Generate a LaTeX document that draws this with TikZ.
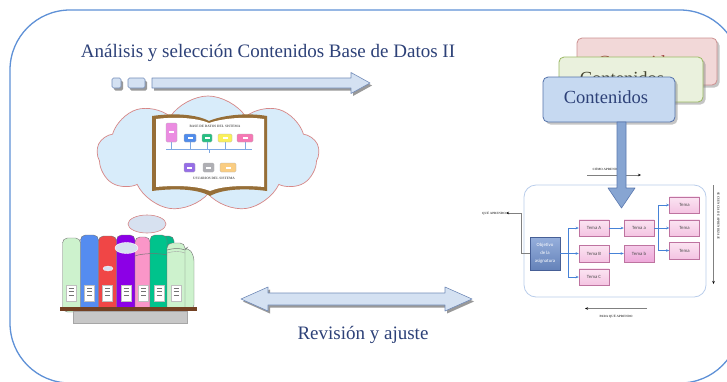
\documentclass[tikz,border=0pt]{standalone}
\usepackage{fontspec}
\setmainfont{Liberation Serif}
\newfontfamily\calibrilike{Carlito}
\usetikzlibrary{shapes.symbols,shadows,arrows.meta,calc}

\definecolor{frameblue}{RGB}{95,145,215}
\definecolor{titleblue}{RGB}{45,65,120}
\definecolor{arrowfill}{RGB}{212,225,242}
\definecolor{arrowline}{RGB}{115,140,185}
\definecolor{cloudfill}{RGB}{216,236,250}
\definecolor{cloudline}{RGB}{215,135,135}
\definecolor{pinkfill}{RGB}{242,216,216}
\definecolor{pinkline}{RGB}{205,145,145}
\definecolor{pinktext}{RGB}{150,50,50}
\definecolor{greenfill}{RGB}{234,241,221}
\definecolor{greenline}{RGB}{155,185,100}
\definecolor{greentext}{RGB}{70,70,50}
\definecolor{bluefill}{RGB}{198,217,241}
\definecolor{blueline}{RGB}{85,115,170}
\definecolor{downfill}{RGB}{135,165,210}
\definecolor{downline}{RGB}{90,120,175}
\definecolor{tematop}{RGB}{251,228,242}
\definecolor{temabot}{RGB}{244,196,226}
\definecolor{temadeep}{RGB}{238,168,218}
\definecolor{temaline}{RGB}{190,115,160}
\definecolor{objtop}{RGB}{150,175,220}
\definecolor{objbot}{RGB}{100,130,185}
\definecolor{objline}{RGB}{70,95,150}
\definecolor{flowblue}{RGB}{70,130,215}
\definecolor{boxframe}{RGB}{185,205,235}
\definecolor{bookbrown}{RGB}{150,110,55}
\definecolor{shelfbrown}{RGB}{115,65,35}

\tikzset{
  blockarrow/.style={fill=arrowfill, draw=arrowline, line width=0.6pt, line join=round},
  arrowshade/.style={fill=black!40, draw=none},
  headline/.style={font=\fontsize{19}{22}\selectfont, text=titleblue, inner sep=0pt},
  cardbox/.style={rounded corners=5pt, line width=0.8pt,
    drop shadow={shadow xshift=2.5pt, shadow yshift=-2.5pt, opacity=0.45}},
  cardtext/.style={font=\fontsize{18.5}{21}\selectfont, inner sep=0pt},
  tema/.style={draw=temaline, line width=0.5pt, top color=tematop, bottom color=temabot,
    minimum width=30pt, minimum height=16.5pt, inner sep=0pt,
    font=\calibrilike\fontsize{4.8}{5.5}\selectfont, text=black!70},
  flow/.style={flowblue, line width=0.5pt, -{Stealth[length=3pt,width=2.5pt]}},
  tinylabel/.style={font=\bfseries\fontsize{3.2}{3.6}\selectfont, text=black!70, inner sep=0pt},
  guide/.style={black!50, line width=0.7pt, -{Stealth[length=3pt,width=2.5pt,black]}},
  spine/.style={draw=black!55, line width=0.4pt, rounded corners=5pt},
  spinelabel/.style={fill=white, draw=black!25, line width=0.2pt},
  booktext/.style={font=\bfseries\fontsize{3.4}{4}\selectfont, text=black!65, inner sep=0pt},
  dbitem/.style={rounded corners=1.2pt, draw=black!30, line width=0.2pt}
}

\begin{document}
\begin{tikzpicture}[x=1pt,y=-1pt]
\useasboundingbox (0,0) rectangle (727,381);
\fill[white] (0,0) rectangle (727,381);
\begin{scope}
\clip (0,0) rectangle (727,381);

% outer rounded frame
\draw[frameblue, line width=1.3pt, rounded corners=60pt] (10,10) rectangle (740,383);

% heading
\node[headline] (title) at (268,53) {Análisis y selección Contenidos Base de Datos II};

% top block arrow with its two small squares
\begin{scope}[shift={(2,2.5)}]
  \fill[arrowshade] (152,78) -- (351,78) -- (351,72.5) -- (370,83) -- (351,93.5) -- (351,88) -- (152,88) -- cycle;
  \fill[arrowshade, rounded corners=1.5pt] (112,78) rectangle (121,88);
  \fill[arrowshade, rounded corners=1.5pt] (128,78) rectangle (145,88);
\end{scope}
\filldraw[blockarrow] (152,78) -- (351,78) -- (351,72.5) -- (370,83) -- (351,93.5) -- (351,88) -- (152,88) -- cycle;
\filldraw[blockarrow, rounded corners=1.5pt] (112,78) rectangle (121,88);
\filldraw[blockarrow, rounded corners=1.5pt] (128,78) rectangle (145,88);

% thought cloud with the open book
\node[cloud, cloud puffs=9, cloud puff arc=115, aspect=1.9, draw=cloudline, fill=cloudfill,
      line width=0.7pt, minimum width=222pt, minimum height=116pt] (cloud) at (208,154) {};
\fill[bookbrown] (152,116) .. controls (180,112) and (200,116) .. (209,121)
   .. controls (220,116) and (245,112) .. (267,116) -- (267,191)
   .. controls (245,188) and (222,189) .. (210,196)
   .. controls (198,189) and (175,188) .. (152,191) -- cycle;
\fill[white] (156,119) .. controls (180,116) and (200,119) .. (209,123)
   .. controls (220,119) and (243,116) .. (264,119) -- (264,187)
   .. controls (243,185) and (222,186) .. (210,191)
   .. controls (198,186) and (177,185) .. (156,187) -- cycle;
\node[booktext] (dbtitle) at (215,126) {BASE DE DATOS DEL SISTEMA};
\draw[flowblue!70, line width=0.8pt] (166,149) -- (252,149);
\foreach \xa/\xb in {171/171, 190/190, 207/207, 225/225, 245/245}
  \draw[flowblue!70, line width=0.6pt] (\xa,141) -- (\xb,149);
\draw[flowblue!70, line width=0.5pt] (209,149) -- (209,153);
\filldraw[dbitem, fill={rgb,255:red,235;green,140;blue,225}] (166,123) rectangle (177,142);
\filldraw[dbitem, fill={rgb,255:red,80;green,140;blue,235}] (184,134) rectangle (196,142);
\filldraw[dbitem, fill={rgb,255:red,40;green,190;blue,130}] (202,134) rectangle (212,142);
\filldraw[dbitem, fill={rgb,255:red,250;green,240;blue,90}] (218,134) rectangle (232,142);
\filldraw[dbitem, fill={rgb,255:red,245;green,120;blue,180}] (237,134) rectangle (253,142);
\filldraw[dbitem, fill={rgb,255:red,150;green,110;blue,230}] (184,163) rectangle (195,172);
\filldraw[dbitem, fill={rgb,255:red,175;green,175;blue,180}] (203,163) rectangle (214,172);
\filldraw[dbitem, fill={rgb,255:red,250;green,205;blue,130}] (220,163) rectangle (236,172);
\foreach \cx/\cy in {171/132, 190/138, 207/138, 225/138, 245/138, 189/168, 208/168, 228/168}
  \fill[white] (\cx-2.5,\cy-1) rectangle (\cx+2.5,\cy+1);
\node[booktext] (usrtitle) at (214,178) {USUARIOS DEL SISTEMA};

% small thought bubble
\filldraw[fill={rgb,255:red,215;green,225;blue,240}, draw=cloudline, line width=0.6pt] (147,224) ellipse (19pt and 9pt);

% bookshelf
\filldraw[spine, fill={rgb,255:red,0;green,185;blue,135}] (160,236) rectangle (174,310);
\filldraw[spine, fill={rgb,255:red,205;green,242;blue,205}] (183,250) -- (188,247) -- (194,256) -- (194,310) -- (183,310) -- cycle;
\filldraw[spine, fill={rgb,255:red,205;green,242;blue,205}] (62.5,238) rectangle (80.5,312);
\filldraw[spine, fill={rgb,255:red,85;green,140;blue,240}] (80.5,235) rectangle (98.5,312);
\filldraw[spine, fill={rgb,255:red,240;green,70;blue,70}] (98.5,236) rectangle (116.5,312);
\filldraw[spine, fill={rgb,255:red,140;green,0;blue,230}] (116.5,235) rectangle (135,312);
\filldraw[spine, fill={rgb,255:red,250;green,150;blue,200}] (135,237) rectangle (150,312);
\filldraw[spine, fill={rgb,255:red,0;green,195;blue,140}] (150,235) rectangle (167,312);
\filldraw[spine, fill={rgb,255:red,205;green,242;blue,205}] (167,243) rectangle (185,312);
\draw[black!55, line width=0.5pt] (135,256) .. controls (142,253) and (160,253) .. (167,255);
\draw[black!55, line width=0.5pt] (167,250) .. controls (174,248) and (180,248) .. (185,250);
\draw[black!35, line width=0.4pt] (167,253) .. controls (174,251) and (180,251) .. (185,253);
\filldraw[fill={rgb,255:red,215;green,225;blue,240}, draw=white, line width=0.4pt] (126.5,248) ellipse (11.5pt and 5.5pt);
\filldraw[fill={rgb,255:red,215;green,225;blue,240}, draw=white, line width=0.3pt] (108,268.5) ellipse (5pt and 2.5pt);
\foreach \lx in {66, 84.5, 102.5, 121, 138.5, 154, 171}
{
  \filldraw[spinelabel] (\lx,285) rectangle (\lx+10,301);
  \foreach \ly in {288, 291.5, 295}
    \draw[black!55, line width=0.5pt] (\lx+2.5,\ly) -- (\lx+7.5,\ly);
}
\fill[shelfbrown] (60,306.5) rectangle (197,310.5);
\filldraw[fill=black!22, draw=black!35, line width=0.4pt] (73,311) rectangle (187,323);

% two-headed block arrow
\begin{scope}[shift={(2,2.5)}]
  \fill[arrowshade] (241,299) -- (268,287) -- (268,293) -- (445,293) -- (445,287) -- (472,299)
     -- (445,311) -- (445,305) -- (268,305) -- (268,311) -- cycle;
\end{scope}
\filldraw[blockarrow] (241,299) -- (268,287) -- (268,293) -- (445,293) -- (445,287) -- (472,299)
   -- (445,311) -- (445,305) -- (268,305) -- (268,311) -- cycle;
\node[headline] (review) at (363,335) {Revisión y ajuste};

% stacked content cards
\node[cardbox, draw=pinkline, fill=pinkfill, minimum width=140pt, minimum height=47pt] (cardback) at (647,61.5) {};
\node[cardtext, text=pinktext] (cardbacktext) at (640,62) {Contenidos};
\node[cardbox, draw=greenline, fill=greenfill, minimum width=144pt, minimum height=45pt] (cardmid) at (631,79.5) {};
\node[cardtext, text=greentext] (cardmidtext) at (622,78.5) {Contenidos};
\node[cardbox, draw=blueline, fill=bluefill, minimum width=132pt, minimum height=45pt] (cardfront) at (609,99.5) {};
\node[cardtext, text=titleblue] (cardfronttext) at (606,97) {Contenidos};

% learning map on the right
\draw[boxframe, line width=0.8pt, rounded corners=12pt] (524,185) rectangle (706,297);

\node[draw=objline, line width=0.5pt, top color=objtop, bottom color=objbot, minimum width=30pt,
      minimum height=33pt, inner sep=0pt, align=center, text=white,
      font=\calibrilike\fontsize{4.8}{8}\selectfont] (obj) at (545,253.5) {Objetivo\\de la\\asignatura};
\node[tema] (tA) at (594,228) {Tema A};
\node[tema] (tB) at (594,253.5) {Tema B};
\node[tema] (tC) at (594,277) {Tema C};
\node[tema] (ta) at (639,228) {Tema a};
\node[tema, top color=temadeep!60!white, bottom color=temadeep] (tb) at (639,253.5) {Tema b};
\node[tema] (r1) at (684.5,205) {Tema};
\node[tema] (r2) at (684.5,228) {Tema};
\node[tema] (r3) at (684.5,250.5) {Tema};

\coordinate (split1) at (568,253.5);
\coordinate (split2) at (658,228);
\draw[flowblue, line width=0.5pt] (obj.east) -- (split1);
\draw[flow] (split1) |- (tA.west);
\draw[flow] (split1) -- (tB.west);
\draw[flow] (split1) |- (tC.west);
\draw[flow] (tA.east) -- (ta.west);
\draw[flow] (tB.east) -- (tb.west);
\draw[flowblue, line width=0.5pt] (ta.east) -- (split2);
\draw[flow] (split2) |- (r1.west);
\draw[flow] (split2) -- (r2.west);
\draw[flow] (split2) |- (r3.west);

% guide arrows with their captions
\node[tinylabel] (que) at (494,213) {QUÉ APRENDO};
\coordinate (queturn) at (521,213);
\draw[guide] (obj.west) -| (queturn) -- (que.east);

\node[tinylabel] (como) at (606,169.5) {CÓMO APRENDO};
\coordinate (comostart) at (587,175);
\coordinate (comoend) at (641,175);
\draw[guide] (comostart) -- (comoend);

\node[tinylabel] (paraque) at (616,316) {PARA QUÉ APRENDO};
\coordinate (parastart) at (647,308.5);
\coordinate (paraend) at (585,308.5);
\draw[guide] (parastart) -- (paraend);

\node[tinylabel, rotate=-90] (secuencia) at (718.5,216) {SECUENCIA DE APRENDIZAJE};
\coordinate (seqtop) at (713.5,185);
\coordinate (seqbottom) at (713.5,284);
\draw[guide] (seqtop) -- (seqbottom);

% arrow from the cards down into the map
\filldraw[fill=downfill, draw=downline, line width=0.6pt, line join=round]
  (617,122) -- (626,122) -- (626,188) -- (635,188) -- (621.5,208) -- (608,188) -- (617,188) -- cycle;
\end{scope}
\end{tikzpicture}
\end{document}
